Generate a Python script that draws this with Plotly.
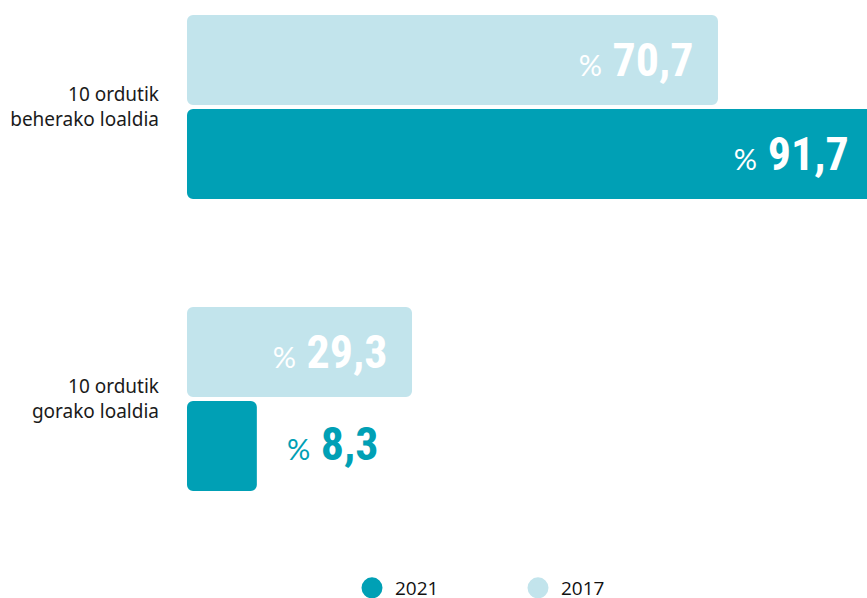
import plotly.graph_objects as go

# Sleep-duration shares (percent) for two survey years
categories = ["10 ordutik<br>beherako loaldia", "10 ordutik<br>gorako loaldia"]
values_2017 = [70.7, 29.3]
values_2021 = [91.7, 8.3]
legend_names = ["2021", "2017"]

COLOR_2021 = "#00A0B5"
COLOR_2017 = "#C2E4EC"
BAR_BASE = -1.15          # bars start slightly left of zero
BAR_WIDTH = 0.308
BAR_GAP = 0.007
INSIDE_MIN = 20           # shorter bars get their label outside

NUM_FONT = ("Noto Sans ExtraCondensed, Noto Sans Condensed, Roboto Condensed, "
            "Roboto, sans-serif")
LABEL_FONT = "Noto Sans, sans-serif"
NUM_SIZE = 46
PCT = '<span style="font-size:29px;font-family:Lato;font-weight:normal">%</span>'
PAD = '<span style="font-size:40px">&nbsp;&nbsp;</span>'


def fmt(v):
    return f"{v:.1f}".replace(".", ",")


def inside_label(v):
    return f"{PCT} {fmt(v)}{PAD}"


pos = list(range(len(categories)))

fig = go.Figure()

fig.add_trace(go.Bar(
    y=pos, x=[v - BAR_BASE for v in values_2017], base=BAR_BASE,
    orientation="h", width=BAR_WIDTH, offset=-(BAR_WIDTH + BAR_GAP),
    marker=dict(color=COLOR_2017, line=dict(width=0)),
    text=[inside_label(v) for v in values_2017],
    textposition="inside", insidetextanchor="end", textangle=0,
    constraintext="none",
    textfont=dict(family=NUM_FONT, size=NUM_SIZE, color="white", weight="bold"),
    showlegend=False, hoverinfo="skip",
))

fig.add_trace(go.Bar(
    y=pos, x=[v - BAR_BASE for v in values_2021], base=BAR_BASE,
    orientation="h", width=BAR_WIDTH, offset=BAR_GAP,
    marker=dict(color=COLOR_2021, line=dict(width=0)),
    text=[inside_label(v) if v > INSIDE_MIN else "" for v in values_2021],
    textposition="inside", insidetextanchor="end", textangle=0,
    constraintext="none",
    insidetextfont=dict(family=NUM_FONT, size=NUM_SIZE, color="white", weight="bold"),
    showlegend=False, hoverinfo="skip", cliponaxis=True,
))

# labels of short 2021 bars sit just past the bar end
for p, v in zip(pos, values_2021):
    if v <= INSIDE_MIN:
        fig.add_annotation(
            x=v, y=p + BAR_GAP + BAR_WIDTH / 2, xref="x", yref="y",
            text=f"{PCT} {fmt(v)}", showarrow=False,
            xanchor="left", yanchor="middle", xshift=28, yshift=2,
            font=dict(family=NUM_FONT, size=NUM_SIZE, color=COLOR_2021,
                      weight="bold"),
        )

# legend entries drawn as round markers
for name, color in zip(legend_names, [COLOR_2021, COLOR_2017]):
    fig.add_trace(go.Scatter(
        x=[None], y=[None], mode="markers", name=name,
        marker=dict(symbol="circle", size=16, color=color,
                    line=dict(color=color, width=5)),
    ))

fig.update_layout(
    width=867, height=598,
    margin=dict(l=187, r=0, t=0, b=38),
    paper_bgcolor="white", plot_bgcolor="white",
    barmode="overlay", barcornerradius=6,
    xaxis=dict(range=[BAR_BASE, (867 - 187) / 7.39 + BAR_BASE], visible=False,
               fixedrange=True),
    yaxis=dict(range=[1.5514, -0.3664], tickvals=pos, ticktext=categories,
               showgrid=False, zeroline=False, showline=False, ticks="",
               ticklabelstandoff=27,
               tickfont=dict(family=LABEL_FONT, size=19, color="#1a1a1a")),
    legend=dict(orientation="h", xref="container", yref="container",
                x=349 / 867, xanchor="left", y=10 / 598, yanchor="middle",
                entrywidth=115, entrywidthmode="pixels", itemwidth=36,
                font=dict(family="Open Sans, sans-serif", size=19, color="#111"),
                itemsizing="trace", bgcolor="rgba(0,0,0,0)"),
    showlegend=True,
)

fig.write_html("out.html")
